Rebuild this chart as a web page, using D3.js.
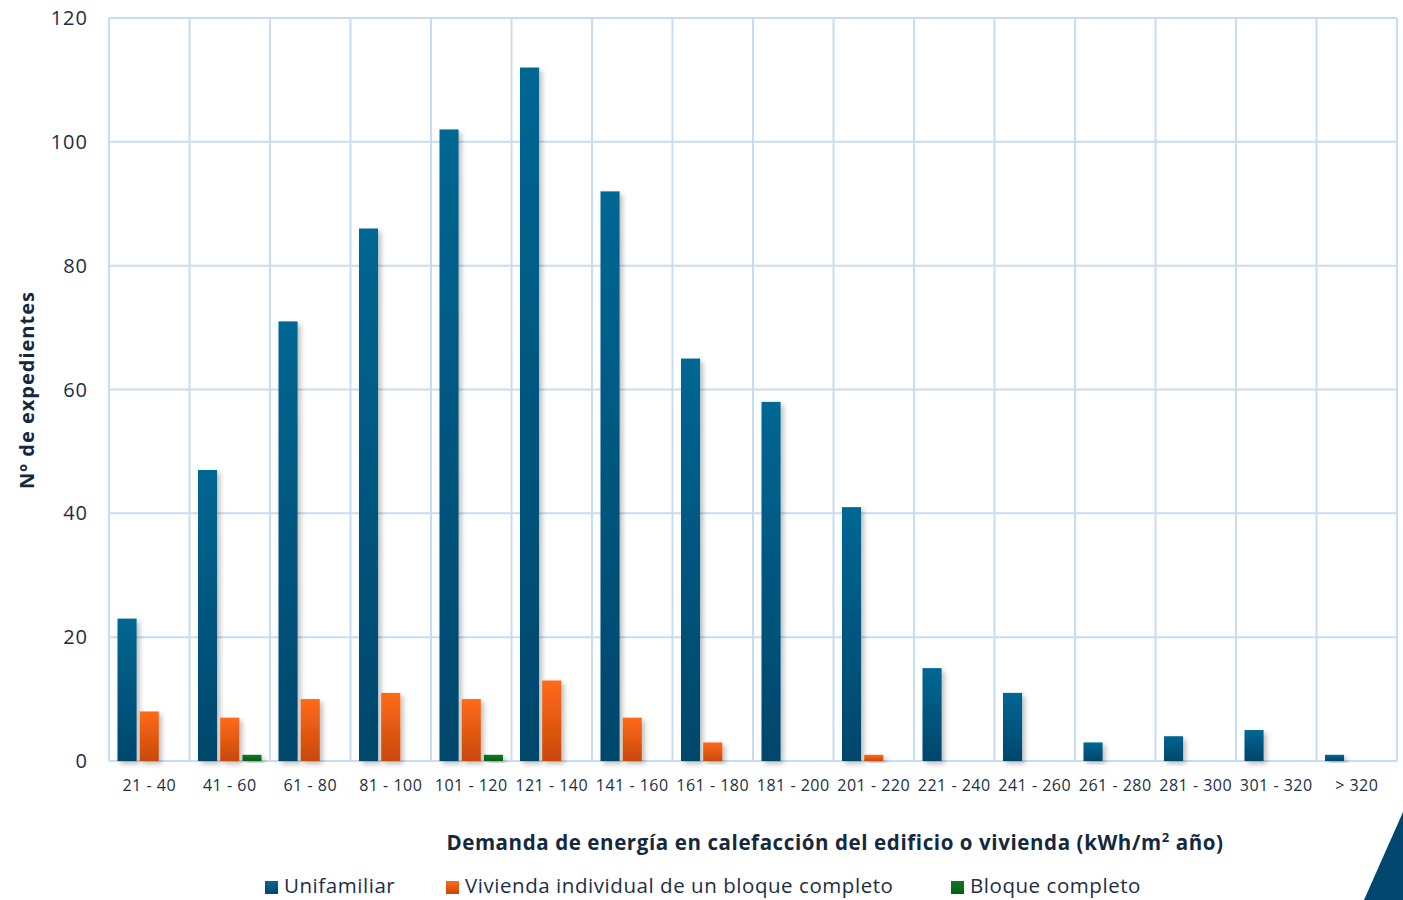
<!DOCTYPE html>
<html>
  <head>
    <meta charset="utf-8" />
    <title>Demanda de energía en calefacción</title>
    <script src="https://d3js.org/d3.v7.min.js"></script>
    <style>
      body { margin: 0; background: #fff; font-family: "Open Sans", "Noto Sans", sans-serif; }
      .grid line { stroke: #c8ddf2; stroke-width: 2; }
      .tick-y { font-size: 20px; fill: #1c2e45; letter-spacing: 1px; }
      .tick-x { font-size: 16px; fill: #1c2e45; letter-spacing: 0.5px; }
      .title { font-size: 20.5px; font-weight: bold; fill: #14283f; letter-spacing: 0.6px; }
      .ytitle { font-size: 20px; letter-spacing: 1px; }
      .legend text { font-size: 20.5px; fill: #1c2e45; letter-spacing: 0.55px; }
    </style>
  </head>
  <body>
    <svg id="chart" width="1403" height="900"></svg>
    <script>
      // Data
      const categories = ['21 - 40', '41 - 60', '61 - 80', '81 - 100', '101 - 120', '121 - 140',
        '141 - 160', '161 - 180', '181 - 200', '201 - 220', '221 - 240', '241 - 260',
        '261 - 280', '281 - 300', '301 - 320', '> 320'];
      const seriesNames = ['Unifamiliar', 'Vivienda individual de un bloque completo', 'Bloque completo'];
      const unifamiliar = [23, 47, 71, 86, 102, 112, 92, 65, 58, 41, 15, 11, 3, 4, 5, 1];
      const viviendaIndividual = [8, 7, 10, 11, 10, 13, 7, 3, 0, 1, 0, 0, 0, 0, 0, 0];
      const bloqueCompleto = [0, 1, 0, 0, 1, 0, 0, 0, 0, 0, 0, 0, 0, 0, 0, 0];
      const yTicks = [0, 20, 40, 60, 80, 100, 120];

      const seriesValues = [unifamiliar, viviendaIndividual, bloqueCompleto];
      const width = 1403, height = 900;
      const margin = { top: 18, right: 6, bottom: 139, left: 109 };

      const svg = d3.select('#chart');
      const defs = svg.append('defs');

      // gradients for the bars
      const grads = [
        ['g0', '#006793', '#00466b'],
        ['g1', '#ff6a14', '#c9490f'],
        ['g2', '#0c7a1e', '#0a5e18']
      ];
      grads.forEach(([id, c1, c2]) => {
        const lg = defs.append('linearGradient').attr('id', id)
          .attr('x1', 0).attr('y1', 0).attr('x2', 0).attr('y2', 1);
        lg.append('stop').attr('offset', '0%').attr('stop-color', c1);
        lg.append('stop').attr('offset', '100%').attr('stop-color', c2);
      });
      const shadow = defs.append('filter').attr('id', 'shadow')
        .attr('x', '-30%').attr('y', '-10%').attr('width', '180%').attr('height', '130%');
      shadow.append('feDropShadow').attr('dx', 3).attr('dy', 3).attr('stdDeviation', 2.5)
        .attr('flood-color', '#000').attr('flood-opacity', 0.25);

      const x = d3.scaleBand()
        .domain(categories)
        .range([margin.left, width - margin.right]);

      const xs = d3.scaleBand()
        .domain(seriesNames)
        .range([8.5, x.bandwidth() - 8.5])
        .paddingInner(0.14);

      const y = d3.scaleLinear()
        .domain([0, 120])
        .range([height - margin.bottom, margin.top]);

      // gridlines
      const grid = svg.append('g').attr('class', 'grid');
      grid.selectAll('.hl').data(yTicks).enter().append('line')
        .attr('x1', margin.left).attr('x2', width - margin.right)
        .attr('y1', d => y(d)).attr('y2', d => y(d));
      grid.selectAll('.vl').data(categories.concat(['end'])).enter().append('line')
        .attr('x1', (d, i) => i < categories.length ? x(d) : width - margin.right)
        .attr('x2', (d, i) => i < categories.length ? x(d) : width - margin.right)
        .attr('y1', y(120)).attr('y2', y(0));

      // bars
      seriesValues.forEach((vals, s) => {
        svg.append('g').selectAll('rect')
          .data(vals.map((v, i) => ({ cat: categories[i], v })).filter(d => d.v > 0))
          .enter().append('rect')
          .attr('x', d => x(d.cat) + xs(seriesNames[s]))
          .attr('y', d => y(d.v))
          .attr('width', xs.bandwidth())
          .attr('height', d => y(0) - y(d.v))
          .attr('fill', `url(#g${s})`)
          .attr('filter', 'url(#shadow)');
      });

      // y tick labels
      svg.append('g').selectAll('text').data(yTicks).enter().append('text')
        .attr('class', 'tick-y')
        .attr('x', 88).attr('y', d => y(d))
        .attr('dy', '0.35em')
        .attr('text-anchor', 'end')
        .text(d => d);

      // x tick labels
      svg.append('g').selectAll('text').data(categories).enter().append('text')
        .attr('class', 'tick-x')
        .attr('x', d => x(d) + x.bandwidth() / 2)
        .attr('y', 791)
        .attr('text-anchor', 'middle')
        .text(d => d);

      // axis titles
      const xt = svg.append('text').attr('class', 'title')
        .attr('x', 835).attr('y', 850).attr('text-anchor', 'middle');
      xt.append('tspan').text('Demanda de energía en calefacción del edificio o vivienda (kWh/m');
      xt.append('tspan').text('2').attr('font-size', 13).attr('dy', -8);
      xt.append('tspan').text(' año)').attr('dy', 8);

      svg.append('text').attr('class', 'title ytitle')
        .attr('transform', 'translate(34, 390) rotate(-90)')
        .attr('text-anchor', 'middle')
        .text('Nº de expedientes');

      // legend
      const legendX = [265, 446, 951];
      const lg = svg.append('g').attr('class', 'legend');
      seriesNames.forEach((name, i) => {
        lg.append('rect').attr('x', legendX[i]).attr('y', 881)
          .attr('width', 13).attr('height', 13).attr('fill', `url(#g${i})`);
        lg.append('text').attr('x', legendX[i] + 19).attr('y', 893).text(name);
      });

      // decorative corner triangle
      svg.append('path')
        .attr('d', 'M1403,812 L1364,900 L1403,900 Z')
        .attr('fill', '#00466e');
    </script>
  </body>
</html>
